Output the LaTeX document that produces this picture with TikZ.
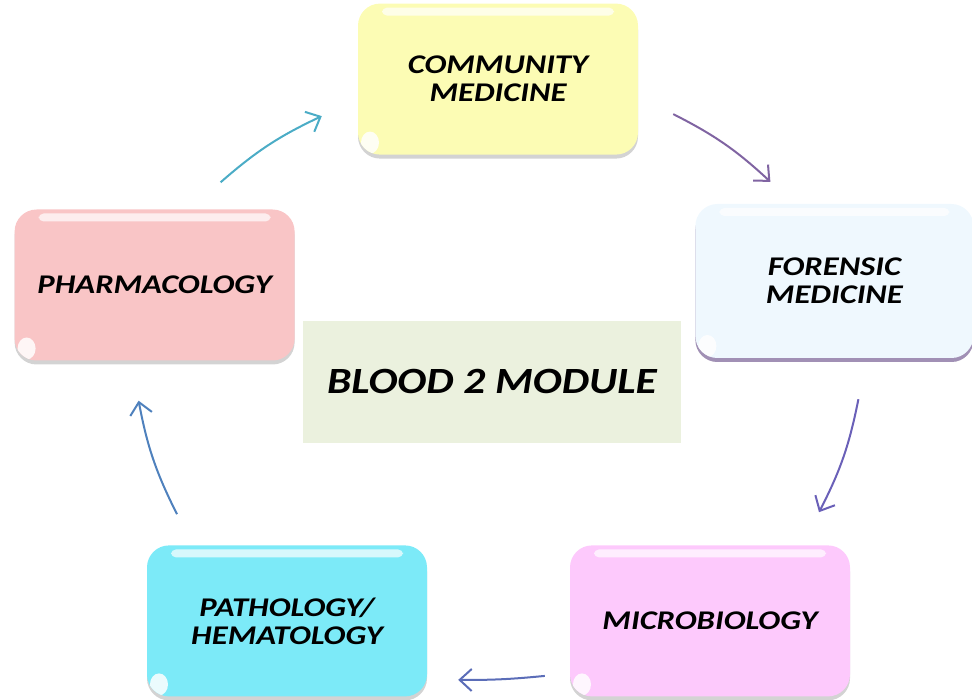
\documentclass[tikz,border=0pt]{standalone}
\usepackage{fontspec}
\setmainfont{Carlito}
\newfontfamily\subjfont[FakeStretch=1.21]{Carlito}
\newfontfamily\modfont[FakeStretch=1.17]{Carlito}
\usetikzlibrary{arrows.meta,calc,positioning,shadows}

\definecolor{commfill}{HTML}{FCFCB4}
\definecolor{forefill}{HTML}{EFF8FE}
\definecolor{microfill}{HTML}{FDC9FC}
\definecolor{pathfill}{HTML}{7CEAF8}
\definecolor{pharmfill}{HTML}{F9C5C6}
\definecolor{modfill}{HTML}{EBF1DE}
\definecolor{tealarr}{HTML}{4BACC6}
\definecolor{purparr}{HTML}{8064A2}
\definecolor{violarr}{HTML}{6A60B8}
\definecolor{indarr}{HTML}{5B6DB8}
\definecolor{bluearr}{HTML}{4F81BD}

\tikzset{
  subject/.style={rectangle, rounded corners=22pt, minimum width=280pt, minimum height=151pt,
    align=center, font=\subjfont\bfseries\itshape\fontsize{27}{28}\selectfont,
    drop shadow={shadow xshift=0pt, shadow yshift=-4pt, opacity=.35},
    path picture={
      \fill[white, opacity=.7, rounded corners=5pt]
        ([xshift=24pt,yshift=-4pt]path picture bounding box.north west) rectangle
        ([xshift=-24pt,yshift=-12pt]path picture bounding box.north east);
      \fill[white, opacity=.85]
        ([xshift=12pt,yshift=12pt]path picture bounding box.south west) circle[x radius=9pt, y radius=11pt];
    }},
  flow/.style={line width=2pt, -{Straight Barb[length=12pt,width=22pt]}, bend left=8}
}

\begin{document}
\begin{tikzpicture}[x=1pt, y=-1pt]
    \useasboundingbox (0,0) rectangle (972,700);
    \node(module) [rectangle, fill=modfill, minimum width=378pt, minimum height=122pt,
      font=\modfont\bfseries\itshape\fontsize{37}{40}\selectfont] at (492,382) {BLOOD 2 MODULE};
    \node(community) [subject, fill=commfill, above=166pt of module, xshift=6pt] {COMMUNITY\\MEDICINE};
    \node(forensic) [subject, fill=forefill, minimum width=278pt, minimum height=154pt, right=14pt of module, yshift=101pt,
      drop shadow={shadow xshift=0pt, shadow yshift=-4pt, fill=purparr, opacity=.6}] {FORENSIC\\MEDICINE};
    \node(micro) [subject, fill=microfill, below=102pt of module, xshift=218pt] {MICROBIOLOGY};
    \node(patho) [subject, fill=pathfill, below=102pt of module, xshift=-205pt] {PATHOLOGY/\\HEMATOLOGY};
    \node(pharma) [subject, fill=pharmfill, left=8pt of module, yshift=97pt] {PHARMACOLOGY};

    \draw[flow, tealarr] ($(pharma.north)+(66,-27)$) to ($(community.west)+(-36,37)$);
    \draw[flow, purparr] ($(community.east)+(35,35)$) to ($(forensic.north)+(-64,-22)$);
    \draw[flow, violarr] ($(forensic.south)+(24,41)$) to ($(micro.north)+(109,-33)$);
    \draw[flow, indarr, bend left=3] ($(micro.west)+(-25,55)$) to ($(patho.east)+(31,59)$);
    \draw[flow, bluearr] ($(patho.north)+(-110,-31)$) to ($(pharma.south)+(-16,40)$);
\end{tikzpicture}
\end{document}
